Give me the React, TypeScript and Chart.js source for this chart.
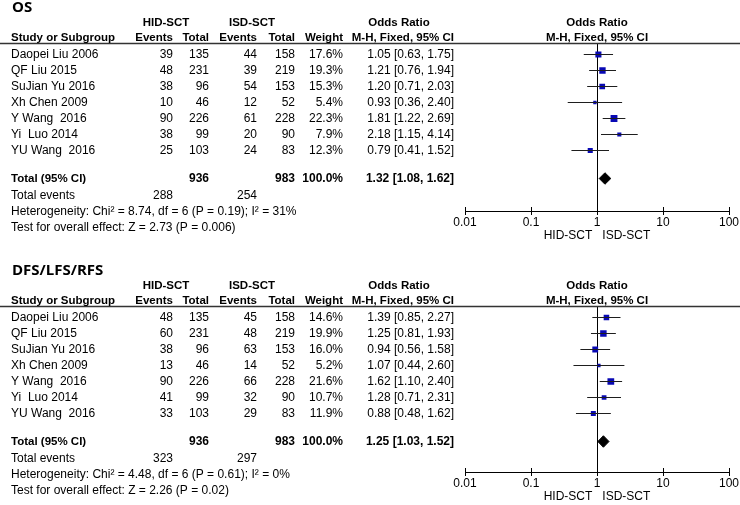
import React, { useEffect, useRef } from "react";
import { Chart, registerables } from "chart.js";

Chart.register(...registerables);

// ---------------- data ----------------
const STUDIES = ["Daopei Liu 2006", "QF Liu 2015", "SuJian Yu 2016", "Xh Chen 2009", "Y Wang  2016", "Yi  Luo 2014", "YU Wang  2016"];
const HID_TOTAL = [135, 231, 96, 46, 226, 99, 103];
const ISD_TOTAL = [158, 219, 153, 52, 228, 90, 83];
const GROUP_TOTALS = [936, 983];

const OS_HID_EVENTS = [39, 48, 38, 10, 90, 38, 25];
const OS_ISD_EVENTS = [44, 39, 54, 12, 61, 20, 24];
const OS_WEIGHT = [17.6, 19.3, 15.3, 5.4, 22.3, 7.9, 12.3];
const OS_OR = [1.05, 1.21, 1.2, 0.93, 1.81, 2.18, 0.79];
const OS_LO = [0.63, 0.76, 0.71, 0.36, 1.22, 1.15, 0.41];
const OS_HI = [1.75, 1.94, 2.03, 2.4, 2.69, 4.14, 1.52];
const OS_TOTAL = [1.32, 1.08, 1.62];
const OS_TOTAL_EVENTS = [288, 254];
const OS_HET = "Heterogeneity: Chi\u00b2 = 8.74, df = 6 (P = 0.19); I\u00b2 = 31%";
const OS_TEST = "Test for overall effect: Z = 2.73 (P = 0.006)";

const DFS_HID_EVENTS = [48, 60, 38, 13, 90, 41, 33];
const DFS_ISD_EVENTS = [45, 48, 63, 14, 66, 32, 29];
const DFS_WEIGHT = [14.6, 19.9, 16.0, 5.2, 21.6, 10.7, 11.9];
const DFS_OR = [1.39, 1.25, 0.94, 1.07, 1.62, 1.28, 0.88];
const DFS_LO = [0.85, 0.81, 0.56, 0.44, 1.1, 0.71, 0.48];
const DFS_HI = [2.27, 1.93, 1.58, 2.6, 2.4, 2.31, 1.62];
const DFS_TOTAL = [1.25, 1.03, 1.52];
const DFS_TOTAL_EVENTS = [323, 297];
const DFS_HET = "Heterogeneity: Chi\u00b2 = 4.48, df = 6 (P = 0.61); I\u00b2 = 0%";
const DFS_TEST = "Test for overall effect: Z = 2.26 (P = 0.02)";

const AXIS_TICKS = [0.01, 0.1, 1, 10, 100];
const AXIS_TITLE = "HID-SCT   ISD-SCT";
const GROUP_LABELS = ["HID-SCT", "ISD-SCT"];
const COLUMN_HEADERS = ["Study or Subgroup", "Events", "Total", "Events", "Total", "Weight", "M-H, Fixed, 95% CI"];
const OR_HEADER = "Odds Ratio";

// ---------------- layout ----------------
const W = 740;
const H = 262;
const ROW0 = 54.5;
const ROW_H = 16;
const rowOf = (px: number) => (px - ROW0) / ROW_H;
const HEAD_LINE = 43.5;
const Y_MIN = rowOf(HEAD_LINE);
const TITLE_ROW = rowOf(7.5);
const GROUP_ROW = rowOf(23);
const HEAD_ROW = rowOf(38);
const TOTAL_ROW = rowOf(178.5);
const EVENTS_ROW = rowOf(196);
const HET_ROW = rowOf(212);
const TEST_ROW = rowOf(228);
const DIAMOND_HALF = 0.36;
const AXIS_BOX = 32;

const COL_STUDY = 11;
const COL_E1 = 173;
const COL_T1 = 209;
const COL_E2 = 257;
const COL_T2 = 295;
const COL_W = 343;
const COL_OR = 454;
const COL_G1 = 166;
const COL_G2 = 252;
const COL_ORHEAD = 399;

const FAMILY = '"Liberation Sans", Arial, sans-serif';
const F_REG = `12px ${FAMILY}`;
const F_BOLD = `bold 12px ${FAMILY}`;
const F_HEAD = `bold 11.5px ${FAMILY}`;
const F_TITLE = `bold 15px "Open Sans", "DejaVu Sans", sans-serif`;
const LINE_COLOR = "#1e1e1e";
const MARKER_COLOR = "#0808b4";

const fmtCI = (e: number, l: number, h: number) => `${e.toFixed(2)} [${l.toFixed(2)}, ${h.toFixed(2)}]`;

type PanelProps = {
  top: number;
  axisY: number;
  title: string;
  hidEvents: number[];
  isdEvents: number[];
  weight: number[];
  or: number[];
  lo: number[];
  hi: number[];
  total: number[];
  totalEvents: number[];
  het: string;
  test: string;
};

function ForestPanel(p: PanelProps) {
  const ref = useRef<HTMLCanvasElement | null>(null);

  useEffect(() => {
    const canvas = ref.current;
    if (!canvas) return;

    const ciSets = p.or.map((_, i) => ({
      type: "line",
      data: [
        { x: p.lo[i], y: i },
        { x: p.hi[i], y: i },
      ],
      borderColor: LINE_COLOR,
      borderWidth: 1.2,
      pointRadius: 0,
      fill: false,
      tension: 0,
    }));

    const markerSet = {
      type: "scatter",
      data: p.or.map((v, i) => ({ x: v, y: i })),
      pointStyle: "rect",
      pointRadius: p.weight.map((w) => (1.45 * Math.sqrt(w)) / (2 * Math.SQRT1_2)),
      backgroundColor: MARKER_COLOR,
      borderColor: MARKER_COLOR,
      borderWidth: 0,
    };

    const [est, tlo, thi] = p.total;
    const diamondSet = {
      type: "line",
      data: [
        { x: tlo, y: TOTAL_ROW },
        { x: est, y: TOTAL_ROW - DIAMOND_HALF },
        { x: thi, y: TOTAL_ROW },
        { x: est, y: TOTAL_ROW + DIAMOND_HALF },
        { x: tlo, y: TOTAL_ROW },
      ],
      borderColor: "#000",
      backgroundColor: "#000",
      borderWidth: 1,
      pointRadius: 0,
      fill: "shape",
      tension: 0,
    };

    const tablePlugin = {
      id: "forestTable",
      afterDraw(chart: any) {
        const ctx = chart.ctx as CanvasRenderingContext2D;
        const ys = chart.scales.y;
        const xs = chart.scales.x;
        const Y = (r: number) => ys.getPixelForValue(r);
        const plotCenter = xs.getPixelForValue(1);

        ctx.save();
        // up-ticks of the axis
        ctx.strokeStyle = "#000";
        ctx.lineWidth = 1;
        ctx.beginPath();
        AXIS_TICKS.forEach((v) => {
          const px = Math.round(xs.getPixelForValue(v)) + 0.5;
          ctx.moveTo(px, xs.top - 4);
          ctx.lineTo(px, xs.top);
        });
        ctx.stroke();

        // header rule
        ctx.strokeStyle = "#333";
        ctx.lineWidth = 1.3;
        ctx.beginPath();
        ctx.moveTo(0, chart.chartArea.top);
        ctx.lineTo(W, chart.chartArea.top);
        ctx.stroke();

        ctx.fillStyle = "#000";
        ctx.textBaseline = "middle";
        const t = (s: string, x: number, r: number, align: CanvasTextAlign, font: string) => {
          ctx.font = font;
          ctx.textAlign = align;
          ctx.fillText(s, x, Y(r));
        };

        t(p.title, 12, TITLE_ROW, "left", F_TITLE);

        t(GROUP_LABELS[0], COL_G1, GROUP_ROW, "center", F_HEAD);
        t(GROUP_LABELS[1], COL_G2, GROUP_ROW, "center", F_HEAD);
        t(OR_HEADER, COL_ORHEAD, GROUP_ROW, "center", F_HEAD);
        t(OR_HEADER, plotCenter, GROUP_ROW, "center", F_HEAD);

        t(COLUMN_HEADERS[0], COL_STUDY, HEAD_ROW, "left", F_HEAD);
        t(COLUMN_HEADERS[1], COL_E1, HEAD_ROW, "right", F_HEAD);
        t(COLUMN_HEADERS[2], COL_T1, HEAD_ROW, "right", F_HEAD);
        t(COLUMN_HEADERS[3], COL_E2, HEAD_ROW, "right", F_HEAD);
        t(COLUMN_HEADERS[4], COL_T2, HEAD_ROW, "right", F_HEAD);
        t(COLUMN_HEADERS[5], COL_W, HEAD_ROW, "right", F_HEAD);
        t(COLUMN_HEADERS[6], COL_OR, HEAD_ROW, "right", F_HEAD);
        t(COLUMN_HEADERS[6], plotCenter, HEAD_ROW, "center", F_HEAD);

        STUDIES.forEach((name, i) => {
          t(name, COL_STUDY, i, "left", F_REG);
          t(String(p.hidEvents[i]), COL_E1, i, "right", F_REG);
          t(String(HID_TOTAL[i]), COL_T1, i, "right", F_REG);
          t(String(p.isdEvents[i]), COL_E2, i, "right", F_REG);
          t(String(ISD_TOTAL[i]), COL_T2, i, "right", F_REG);
          t(`${p.weight[i].toFixed(1)}%`, COL_W, i, "right", F_REG);
          t(fmtCI(p.or[i], p.lo[i], p.hi[i]), COL_OR, i, "right", F_REG);
        });

        t("Total (95% CI)", COL_STUDY, TOTAL_ROW, "left", F_HEAD);
        t(String(GROUP_TOTALS[0]), COL_T1, TOTAL_ROW, "right", F_BOLD);
        t(String(GROUP_TOTALS[1]), COL_T2, TOTAL_ROW, "right", F_BOLD);
        t("100.0%", COL_W, TOTAL_ROW, "right", F_BOLD);
        t(fmtCI(est, tlo, thi), COL_OR, TOTAL_ROW, "right", F_BOLD);

        t("Total events", COL_STUDY, EVENTS_ROW, "left", F_REG);
        t(String(p.totalEvents[0]), COL_E1, EVENTS_ROW, "right", F_REG);
        t(String(p.totalEvents[1]), COL_E2, EVENTS_ROW, "right", F_REG);
        t(p.het, COL_STUDY, HET_ROW, "left", F_REG);
        t(p.test, COL_STUDY, TEST_ROW, "left", F_REG);
        ctx.restore();
      },
    };

    const chart = new Chart(canvas, {
      type: "scatter",
      data: { datasets: [...ciSets, markerSet, diamondSet] as any },
      options: {
        responsive: false,
        animation: false,
        events: [],
        layout: { padding: { left: 465, right: 11, top: HEAD_LINE, bottom: H - p.axisY - AXIS_BOX } },
        plugins: { legend: { display: false }, tooltip: { enabled: false } },
        scales: {
          x: {
            type: "logarithmic",
            position: "bottom",
            min: 0.01,
            max: 100,
            afterBuildTicks: (s: any) => {
              s.ticks = AXIS_TICKS.map((v) => ({ value: v }));
            },
            afterFit: (s: any) => {
              s.height = AXIS_BOX;
            },
            ticks: {
              autoSkip: false,
              maxRotation: 0,
              padding: 0,
              color: "#000",
              font: { family: FAMILY, size: 12 },
              callback: (v: any) => String(v),
            },
            grid: {
              drawOnChartArea: true,
              color: (c: any) => (c.tick && c.tick.value === 1 ? "#000" : "rgba(0,0,0,0)"),
              tickColor: "#000",
              tickLength: 4,
              lineWidth: 1,
            },
            border: { display: true, color: "#000", width: 1 },
            title: {
              display: true,
              text: AXIS_TITLE,
              color: "#000",
              font: { family: FAMILY, size: 12 },
              padding: { top: 0, bottom: 0 },
            },
          },
          y: {
            type: "linear",
            display: false,
            reverse: true,
            min: Y_MIN,
            max: rowOf(p.axisY),
          },
        },
      } as any,
      plugins: [tablePlugin],
    });

    return () => chart.destroy();
  }, []);

  return (
    <div style={{ position: "absolute", left: 0, top: p.top, width: W, height: H }}>
      <canvas ref={ref} width={W} height={H} style={{ display: "block", width: W, height: H }} />
    </div>
  );
}

export default function App() {
  return (
    <div style={{ position: "fixed", left: 0, top: 0, width: 740, height: 505, background: "#fff", overflow: "hidden" }}>
      <ForestPanel
        top={0}
        axisY={211}
        title="OS"
        hidEvents={OS_HID_EVENTS}
        isdEvents={OS_ISD_EVENTS}
        weight={OS_WEIGHT}
        or={OS_OR}
        lo={OS_LO}
        hi={OS_HI}
        total={OS_TOTAL}
        totalEvents={OS_TOTAL_EVENTS}
        het={OS_HET}
        test={OS_TEST}
      />
      <ForestPanel
        top={263}
        axisY={209}
        title="DFS/LFS/RFS"
        hidEvents={DFS_HID_EVENTS}
        isdEvents={DFS_ISD_EVENTS}
        weight={DFS_WEIGHT}
        or={DFS_OR}
        lo={DFS_LO}
        hi={DFS_HI}
        total={DFS_TOTAL}
        totalEvents={DFS_TOTAL_EVENTS}
        het={DFS_HET}
        test={DFS_TEST}
      />
    </div>
  );
}
